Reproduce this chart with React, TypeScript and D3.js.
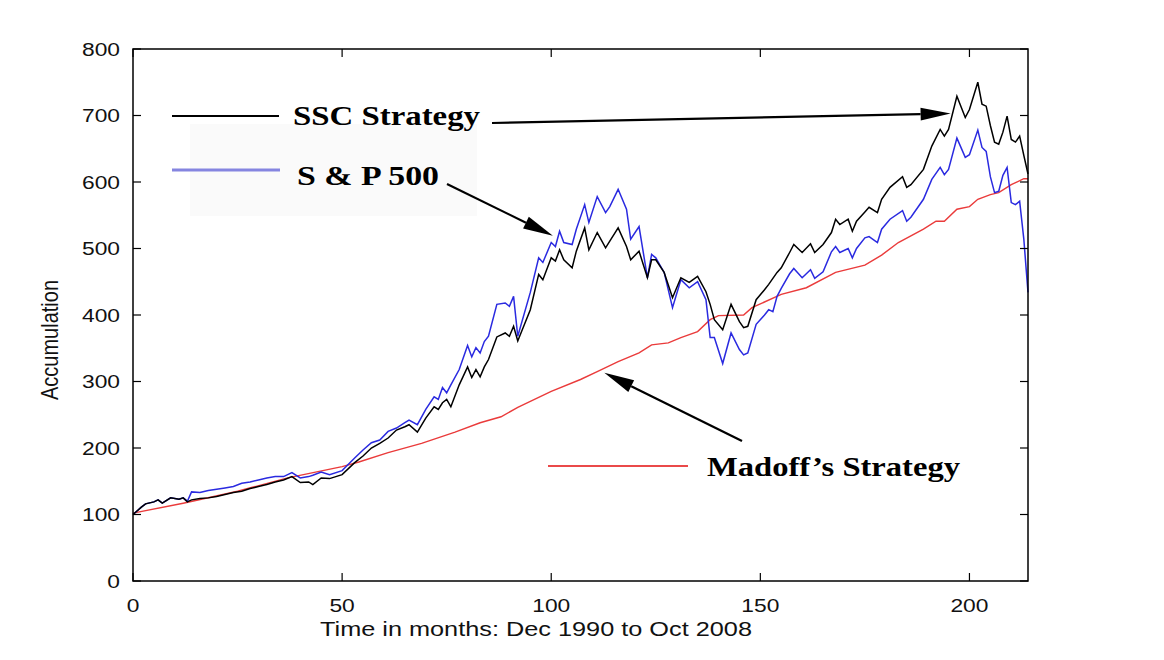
import React from 'react';
import * as d3 from 'd3';

// months (Dec 1990 = 0) shared by the SSC and S&P series
const months = [0, 2, 3, 5, 6, 7, 9, 11, 12, 13, 14, 16, 18, 20, 22, 24, 26, 28, 30, 32, 34, 36, 38, 40, 42, 43, 45, 47, 50, 53, 55, 57, 59, 61, 63, 65, 66, 68, 70, 72, 73, 74, 75, 76, 78, 80, 81, 82, 83, 84, 85, 87, 89, 90, 91, 92, 95, 97, 98, 100, 101, 102, 103, 105, 106, 108, 109, 111, 113, 114, 116, 118, 119, 121, 123, 124, 125, 127, 129, 131, 133, 135, 137, 138, 139, 141, 143, 145, 146, 147, 149, 151, 152, 153, 154, 155, 157, 158, 160, 162, 163, 165, 167, 168, 169, 171, 172, 173, 175, 176, 178, 179, 181, 184, 185, 186, 189, 191, 193, 194, 195, 197, 199, 200, 202, 203, 204, 205, 206, 207, 208, 209, 210, 211, 212, 213, 214];

const sscValues = [100, 111, 116, 119, 122, 117, 125, 123, 125, 119, 122, 124, 125, 127, 130, 133, 135, 139, 142, 145, 149, 152, 157, 148, 149, 145, 155, 154, 160, 178, 188, 200, 207, 215, 227, 232, 235, 224, 245, 262, 258, 268, 273, 262, 295, 322, 306, 318, 307, 322, 333, 367, 373, 368, 383, 361, 408, 461, 453, 486, 481, 498, 483, 471, 496, 531, 498, 524, 501, 511, 531, 503, 483, 496, 456, 483, 483, 464, 426, 456, 449, 458, 435, 416, 393, 378, 416, 390, 381, 383, 423, 438, 446, 455, 464, 471, 494, 506, 494, 507, 494, 506, 524, 544, 536, 544, 526, 541, 555, 562, 554, 574, 592, 608, 592, 596, 619, 654, 679, 669, 679, 729, 697, 709, 750, 717, 714, 685, 660, 657, 675, 699, 664, 660, 669, 640, 612];

const spValues = [100, 111, 116, 119, 122, 117, 125, 123, 125, 120, 134, 133, 136, 138, 140, 142, 147, 149, 152, 155, 157, 157, 163, 155, 157, 159, 164, 160, 166, 185, 197, 208, 212, 225, 230, 238, 242, 235, 258, 277, 273, 291, 283, 295, 318, 354, 337, 351, 343, 360, 368, 416, 418, 413, 428, 368, 434, 486, 479, 509, 503, 526, 509, 506, 529, 566, 539, 578, 554, 563, 589, 559, 514, 533, 456, 491, 486, 464, 411, 453, 441, 450, 423, 366, 366, 327, 373, 348, 340, 343, 386, 400, 408, 405, 428, 440, 462, 470, 456, 468, 455, 465, 495, 503, 494, 500, 486, 500, 516, 518, 509, 529, 544, 557, 541, 547, 574, 604, 622, 611, 619, 666, 637, 641, 678, 652, 646, 608, 584, 586, 610, 622, 569, 566, 571, 514, 434];

const madoffMonths = [0, 12, 25, 37, 50, 54, 61, 69, 77, 83, 88, 92, 100, 107, 111, 116, 121, 124, 128, 131, 135, 138, 140, 146, 148, 155, 161, 168, 175, 179, 183, 189, 192, 194, 197, 200, 202, 205, 207, 210, 213, 214];
const madoffValues = [102, 117, 135, 155, 172, 179, 193, 207, 224, 238, 247, 261, 285, 303, 315, 330, 343, 355, 358, 366, 375, 393, 399, 400, 411, 431, 441, 464, 475, 490, 509, 529, 541, 541, 559, 563, 574, 581, 584, 596, 605, 605];

const yTicks = [0, 100, 200, 300, 400, 500, 600, 700, 800];
const xTicks = [0, 50, 100, 150, 200];

const W = 1164;
const H = 660;
const left = 133, right = 1028, top = 49, bottom = 581;

const x = d3.scaleLinear().domain([0, 214]).range([left, right]);
const y = d3.scaleLinear().domain([0, 800]).range([bottom, top]);

function Arrow({ x1, y1, x2, y2 }: { x1: number; y1: number; x2: number; y2: number }) {
  const ang = Math.atan2(y2 - y1, x2 - x1);
  const len = 30, half = 6.5;
  const bx = x2 - len * Math.cos(ang), by = y2 - len * Math.sin(ang);
  const nx = -Math.sin(ang) * half, ny = Math.cos(ang) * half;
  return (
    <g>
      <line x1={x1} y1={y1} x2={bx} y2={by} stroke="#000" strokeWidth={2.2} />
      <polygon points={`${x2},${y2} ${bx + nx},${by + ny} ${bx - nx},${by - ny}`} fill="#000" />
    </g>
  );
}

export default function App() {
  const line = d3.line<number>()
    .x((_, i) => x(months[i]))
    .y(d => y(d));
  const madLine = d3.line<number>()
    .x((_, i) => x(madoffMonths[i]))
    .y(d => y(d));

  const sans = '"Liberation Sans", Arial, sans-serif';
  const serif = '"Liberation Serif", "Times New Roman", serif';

  return (
    <svg width={W} height={H} style={{ position: 'absolute', left: 0, top: 0, background: '#fff' }}>
      <rect width={W} height={H} fill="#fff" />

      {/* faint box behind legend */}
      <rect x={190} y={124} width={287} height={92} fill="#fafafa" />

      {/* data lines */}
      <path d={madLine(madoffValues) || ''} fill="none" stroke="#ea3b3b" strokeWidth={1.4} />
      <path d={line(spValues) || ''} fill="none" stroke="#2a2ae0" strokeWidth={1.5} />
      <path d={line(sscValues) || ''} fill="none" stroke="#000" strokeWidth={1.5} />

      {/* axes box */}
      <rect x={left} y={top} width={right - left} height={bottom - top} fill="none" stroke="#000" strokeWidth={1.5} />
      {yTicks.map(t => (
        <g key={'y' + t}>
          <line x1={left} x2={left + 8} y1={y(t)} y2={y(t)} stroke="#000" strokeWidth={1.2} />
          <line x1={right} x2={right - 8} y1={y(t)} y2={y(t)} stroke="#000" strokeWidth={1.2} />
          <text transform={`translate(120,${y(t)}) scale(1.2,1)`} dy="0.36em" textAnchor="end"
            fontFamily={sans} fontSize={19} fill="#111">{t}</text>
        </g>
      ))}
      {xTicks.map(t => (
        <g key={'x' + t}>
          <line x1={x(t)} x2={x(t)} y1={bottom} y2={bottom - 8} stroke="#000" strokeWidth={1.2} />
          <line x1={x(t)} x2={x(t)} y1={top} y2={top + 8} stroke="#000" strokeWidth={1.2} />
          <text transform={`translate(${x(t)},612) scale(1.2,1)`} textAnchor="middle"
            fontFamily={sans} fontSize={19} fill="#111">{t}</text>
        </g>
      ))}

      <text x={536} y={636} textAnchor="middle" fontFamily={sans} fontSize={20}
        textLength={432} lengthAdjust="spacingAndGlyphs" fill="#111">
        Time in months: Dec 1990 to Oct 2008
      </text>
      <text transform="translate(58,340) scale(1.2,1) rotate(-90)" textAnchor="middle"
        fontFamily={sans} fontSize={20} fill="#111">Accumulation</text>

      {/* legend */}
      <line x1={172} x2={279} y1={116} y2={116} stroke="#000" strokeWidth={2} />
      <text x={293} y={125} fontFamily={serif} fontWeight="bold" fontSize={28}
        textLength={187} lengthAdjust="spacingAndGlyphs">SSC Strategy</text>
      <line x1={172} x2={280} y1={170} y2={170} stroke="#8585e0" strokeWidth={3} />
      <text x={297} y={185} fontFamily={serif} fontWeight="bold" fontSize={28}
        textLength={142} lengthAdjust="spacingAndGlyphs">S &amp; P 500</text>
      <line x1={548} x2={688} y1={466} y2={466} stroke="#ea4a4a" strokeWidth={2} />
      <text x={707} y={476} fontFamily={serif} fontWeight="bold" fontSize={28}
        textLength={253} lengthAdjust="spacingAndGlyphs">Madoff’s Strategy</text>

      {/* arrows pointing at the series */}
      <Arrow x1={492} y1={123} x2={x(195.5)} y2={y(703)} />
      <Arrow x1={447} y1={184} x2={x(100.4)} y2={y(519)} />
      <Arrow x1={742} y1={441} x2={x(112.7)} y2={y(313)} />
    </svg>
  );
}
